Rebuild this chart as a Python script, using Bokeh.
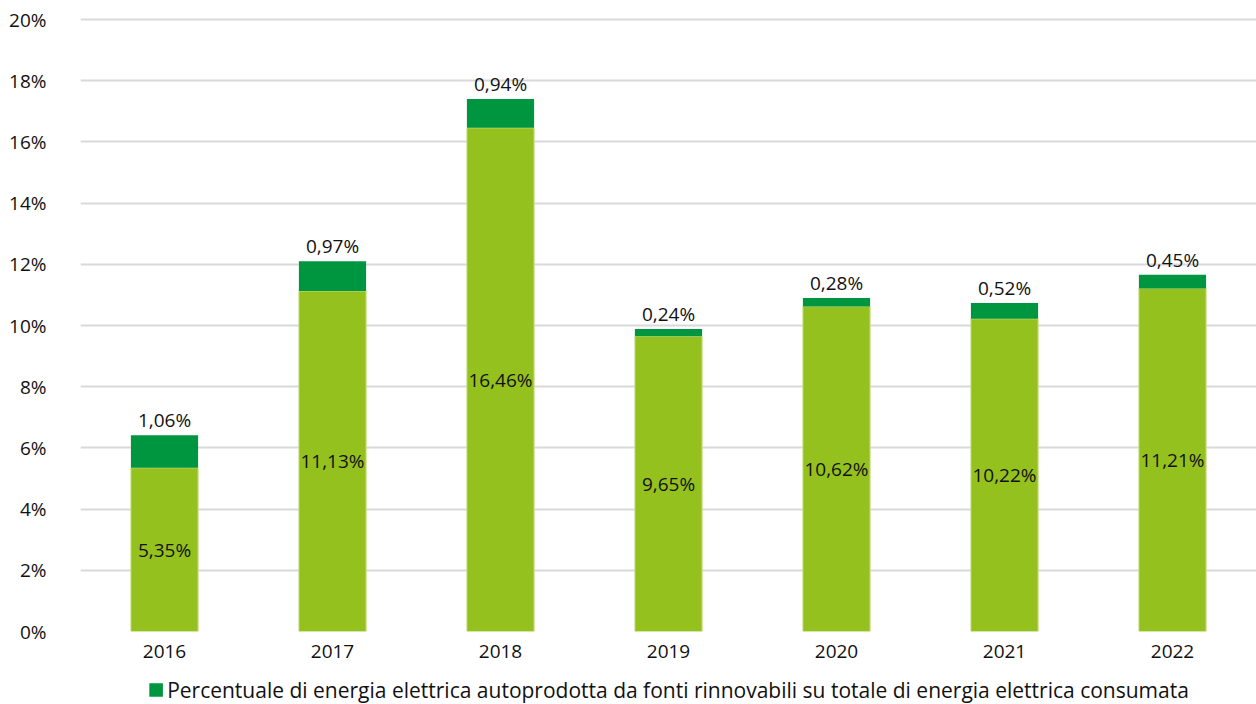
from bokeh.plotting import figure
from bokeh.layouts import column
from bokeh.models import ColumnDataSource, FixedTicker, Legend, LegendItem, FactorRange, Range1d
from bokeh.core.properties import value
from bokeh.embed import file_html
from bokeh.resources import INLINE

years = ["2016", "2017", "2018", "2019", "2020", "2021", "2022"]
base_vals = [5.35, 11.13, 16.46, 9.65, 10.62, 10.22, 11.21]
renew_vals = [1.06, 0.97, 0.94, 0.24, 0.28, 0.52, 0.45]
y_ticks = [0, 2, 4, 6, 8, 10, 12, 14, 16, 18, 20]
legend_label = "Percentuale di energia elettrica autoprodotta da fonti rinnovabili su totale di energia elettrica consumata"

FONT = "Open Sans"
FS = "19px"
LIGHT = "#95C11F"
DARK = "#00963F"

def fmt(v):
    return ("%.2f" % v).replace(".", ",") + "%"

src = ColumnDataSource(dict(
    year=years,
    base=base_vals,
    renew=renew_vals,
    base_mid=[b / 2 for b in base_vals],
    total=[b + r for b, r in zip(base_vals, renew_vals)],
    base_lbl=[fmt(b) for b in base_vals],
    renew_lbl=[fmt(r) for r in renew_vals],
))

x_range = FactorRange(*years, range_padding=0)
p = figure(x_range=x_range, y_range=(0, 20.1),
           width=1256, height=675, output_backend="svg", toolbar_location=None,
           min_border_left=80, min_border_right=0, min_border_top=16, min_border_bottom=44)
p.outline_line_color = None
p.background_fill_color = "white"
p.border_fill_color = "white"

p.vbar(x="year", bottom=0, top="base", width=0.4, source=src,
       fill_color=LIGHT, line_color="#c8dc8a", line_width=1)
p.vbar(x="year", bottom="base", top="total", width=0.4, source=src,
       fill_color=DARK, line_color=DARK, line_width=0)

p.text(x="year", y="base_mid", text="base_lbl", source=src,
       text_align="center", text_baseline="middle",
       text_font=value(FONT), text_font_size=FS, text_color="#111111")
p.text(x="year", y="total", text="renew_lbl", source=src,
       text_align="center", text_baseline="bottom", y_offset=-2,
       text_font=value(FONT), text_font_size=FS, text_color="#111111")

p.yaxis.ticker = FixedTicker(ticks=y_ticks)
p.yaxis.major_label_overrides = {t: f"{t}%" for t in y_ticks}
p.yaxis.axis_line_color = None
p.yaxis.major_tick_line_color = None
p.yaxis.minor_tick_line_color = None
p.yaxis.major_label_text_font = FONT
p.yaxis.major_label_text_font_size = FS
p.yaxis.major_label_text_color = "#111111"
p.yaxis.major_label_standoff = 28

p.xaxis.axis_line_color = None
p.xaxis.major_tick_line_color = None
p.xaxis.minor_tick_line_color = None
p.xaxis.major_tick_out = 0
p.xaxis.major_tick_in = 0
p.xaxis.major_label_text_font = FONT
p.xaxis.major_label_text_font_size = FS
p.xaxis.major_label_text_color = "#111111"
p.xaxis.major_label_standoff = 13

p.xgrid.grid_line_color = None
p.ygrid.grid_line_color = "#d9d9d9"
p.ygrid.grid_line_width = 2

# legend strip (its bars lie outside its visible y range; only the legend shows)
p2 = figure(width=1256, height=29, output_backend="svg", toolbar_location=None,
            x_range=x_range, y_range=Range1d(100, 101),
            min_border_left=0, min_border_right=0, min_border_top=0, min_border_bottom=0)
p2.axis.visible = False
p2.grid.visible = False
p2.outline_line_color = None
legend_r = p2.vbar(x="year", bottom="base", top="total", width=0.4, source=src,
                   fill_color=DARK, line_color=DARK, line_width=0)
legend = Legend(items=[LegendItem(label=legend_label, renderers=[legend_r])],
                location="center", orientation="horizontal",
                label_text_font=FONT, label_text_font_size="21px",
                label_text_color="#111111",
                glyph_width=17, glyph_height=17, label_standoff=3,
                border_line_color=None, background_fill_alpha=0,
                padding=0, margin=0)
p2.add_layout(legend, "center")

open("out.html", "w").write(file_html(column(p, p2, spacing=0), INLINE))
